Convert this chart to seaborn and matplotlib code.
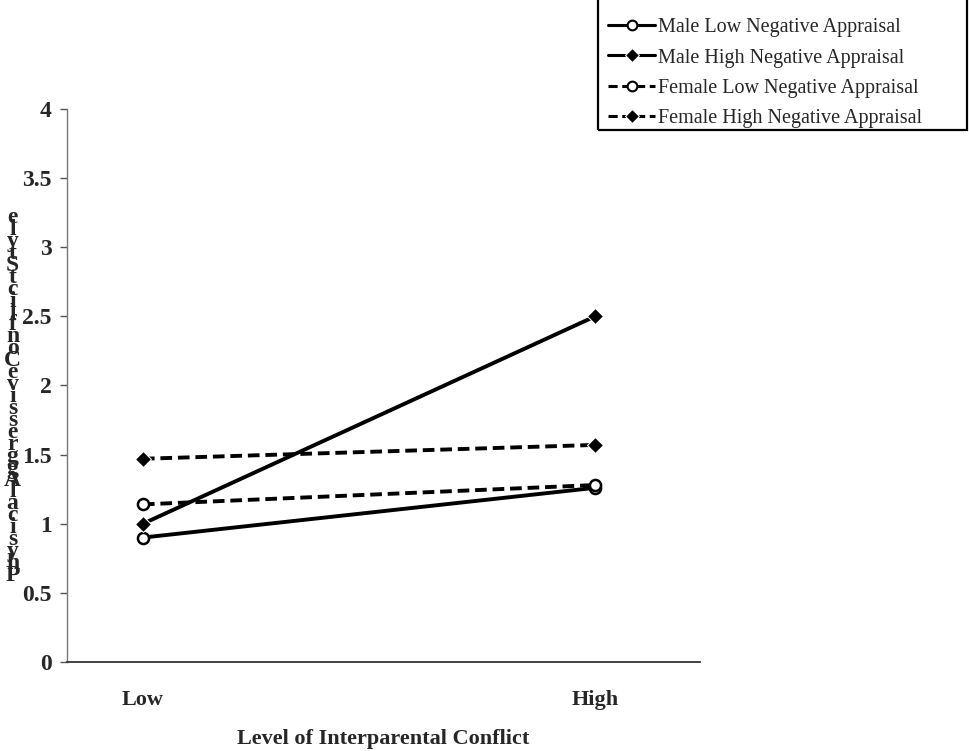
import pandas as pd
import numpy as np
import matplotlib.pyplot as plt
import seaborn as sns
from matplotlib.patches import Rectangle

sns.set_theme(style="white")
plt.rcParams['font.family'] = ['Liberation Serif', 'DejaVu Serif']

# data
conflict = ["Low", "High"]
groups = ["Male Low Negative Appraisal", "Male High Negative Appraisal",
          "Female Low Negative Appraisal", "Female High Negative Appraisal"]
male_low = [0.90, 1.26]
male_high = [1.00, 2.50]
female_low = [1.14, 1.28]
female_high = [1.47, 1.57]
y_ticks = [0, 0.5, 1, 1.5, 2, 2.5, 3, 3.5, 4]
y_label = "Physical Aggressive Conflict Style"

df = pd.DataFrame({
    "conflict": conflict * 4,
    "value": male_low + male_high + female_low + female_high,
    "group": np.repeat(groups, 2),
})

W, H = 969, 751
fig = plt.figure(figsize=(W / 100, H / 100), dpi=100)
ax = fig.add_axes([0.0691, 0.1185, 0.6533, 0.7364])

sns.lineplot(data=df, x="conflict", y="value", hue="group", style="group",
             palette=["black"] * 4,
             markers={groups[0]: "o", groups[1]: "D", groups[2]: "o", groups[3]: "D"},
             dashes={groups[0]: "", groups[1]: "", groups[2]: (3, 1.5), groups[3]: (3, 1.5)},
             linewidth=2.8, markersize=8, ax=ax, legend=True)

# open markers for the low appraisal series
for line in ax.lines:
    if line.get_marker() == "o":
        line.set_markerfacecolor("white")
        line.set_markeredgecolor("black")
        line.set_markeredgewidth(1.8)

ax.set_xlim(-0.168, 1.232)
ax.set_ylim(0, 4)
ax.set_yticks(y_ticks)
ax.set_yticklabels(["0", "0.5", "1", "1.5", "2", "2.5", "3", "3.5", "4"])
ax.tick_params(axis="y", labelsize=17, length=5, width=1, color="#555555", pad=6, left=True)
ax.tick_params(axis="x", labelsize=16, length=0, pad=20)
for lab in ax.get_xticklabels() + ax.get_yticklabels():
    lab.set_fontweight("bold")

ax.set_xlabel("Level of Interparental Conflict", fontsize=16, fontweight="bold", labelpad=14)
ax.set_ylabel("")

for s in ["top", "right"]:
    ax.spines[s].set_visible(False)
ax.spines["left"].set_color("#777777")
ax.spines["left"].set_linewidth(1)
ax.spines["bottom"].set_color("#333333")
ax.spines["bottom"].set_linewidth(1.3)

# stacked letters of the y label, bottom to top
fig.text(0.013, 0.472, "\n".join(reversed(y_label.replace(" ", ""))),
         fontsize=17, fontweight="bold", ha="center", va="center",
         linespacing=0.433)

handles, labels = ax.get_legend_handles_labels()
ax.legend_.remove()
for h in handles:
    if h.get_marker() == "o":
        h.set_markerfacecolor("white")
        h.set_markeredgewidth(1.5)
    h.set_linewidth(2.2)
    h.set_markersize(7)
leg = fig.legend(handles, labels, loc="upper left", bbox_to_anchor=(602 / W, 1 - 12 / H),
                 fontsize=14.5, frameon=False, handlelength=2.35,
                 borderpad=0.3, labelspacing=0.56, handletextpad=0.15, borderaxespad=0)

# legend box, its top edge runs off the figure
fig.patches.append(Rectangle((598 / W, 1 - 130 / H), (967 - 598) / W, 140 / H,
                             transform=fig.transFigure, fill=False,
                             edgecolor="black", linewidth=1.6))

fig.savefig("out.png", dpi=100)
